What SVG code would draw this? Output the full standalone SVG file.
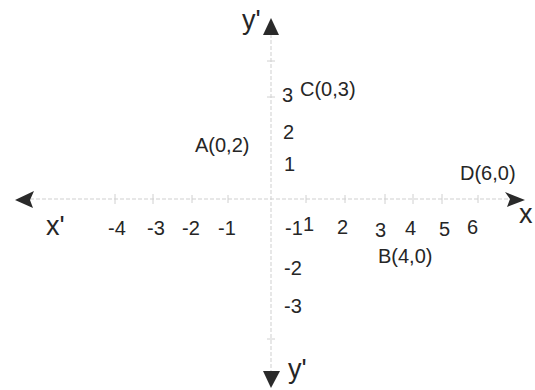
<svg xmlns="http://www.w3.org/2000/svg" width="535" height="390" viewBox="0 0 535 390">
<style>
  text { font-family: "Liberation Sans", Arial, sans-serif; fill: #262626; }
  .num { font-size: 20px; }
  .lbl { font-size: 20px; }
  .ax { font-size: 27px; }
  .axis { stroke: #cfcfcf; stroke-width: 1; stroke-dasharray: 4 2; fill: none; }
  .tick { stroke: #d0d0d0; stroke-width: 1; }
  .head { fill: #2a2a2a; }
</style>
<rect width="535" height="390" fill="#fff"/>
<g id="connectors">
  <line class="axis" x1="30" y1="199" x2="508" y2="199"/>
  <line class="axis" x1="271" y1="34" x2="271" y2="374"/>
  <g id="x-ticks">
    <line class="tick" x1="115" y1="194" x2="115" y2="204"/>
    <line class="tick" x1="153" y1="194" x2="153" y2="204"/>
    <line class="tick" x1="192" y1="195" x2="192" y2="203"/>
    <line class="tick" x1="228" y1="195" x2="228" y2="203"/>
    <line class="tick" x1="306" y1="195" x2="306" y2="203"/>
    <line class="tick" x1="345" y1="195" x2="345" y2="203"/>
    <line class="tick" x1="385" y1="194" x2="385" y2="204"/>
    <line class="tick" x1="413" y1="194" x2="413" y2="204"/>
    <line class="tick" x1="442" y1="194" x2="442" y2="204"/>
    <line class="tick" x1="478" y1="195" x2="478" y2="203"/>
  </g>
  <g id="y-ticks">
    <line class="tick" x1="267" y1="61" x2="275" y2="61"/>
    <line class="tick" x1="267" y1="97" x2="275" y2="97"/>
    <line class="tick" x1="267" y1="339" x2="275" y2="339"/>
  </g>
  <polygon class="head" points="271,18 263,35 279,35"/>
  <polygon class="head" points="271,388 263,371 280,371"/>
  <polygon class="head" points="15,200 34,191 30,200 33,208"/>
  <polygon class="head" points="525,200 505,192 510,199 507,207"/>
</g>
<g id="axis-labels">
  <text class="ax" x="242" y="29">y'</text>
  <text class="ax" x="288" y="378">y'</text>
  <text class="ax" x="46" y="235">x'</text>
  <text class="ax" x="519" y="223">x</text>
</g>
<g id="x-numbers">
  <text class="num" x="108" y="235">-4</text>
  <text class="num" x="147" y="235">-3</text>
  <text class="num" x="182" y="235">-2</text>
  <text class="num" x="218" y="235">-1</text>
  <text class="num" x="303" y="231">1</text>
  <text class="num" x="337" y="234">2</text>
  <text class="num" x="375" y="237">3</text>
  <text class="num" x="405" y="235">4</text>
  <text class="num" x="439" y="236">5</text>
  <text class="num" x="467" y="234">6</text>
</g>
<g id="y-numbers">
  <text class="num" x="282" y="102">3</text>
  <text class="num" x="283" y="139">2</text>
  <text class="num" x="284" y="171">1</text>
  <text class="num" x="285" y="235">-1</text>
  <text class="num" x="284" y="275">-2</text>
  <text class="num" x="284" y="313">-3</text>
</g>
<g id="point-C"><text class="lbl" x="300" y="96">C(0,3)</text></g>
<g id="point-A"><text class="lbl" x="195" y="152">A(0,2)</text></g>
<g id="point-D"><text class="lbl" x="460" y="180">D(6,0)</text></g>
<g id="point-B"><text class="lbl" x="378" y="263">B(4,0)</text></g>
</svg>
